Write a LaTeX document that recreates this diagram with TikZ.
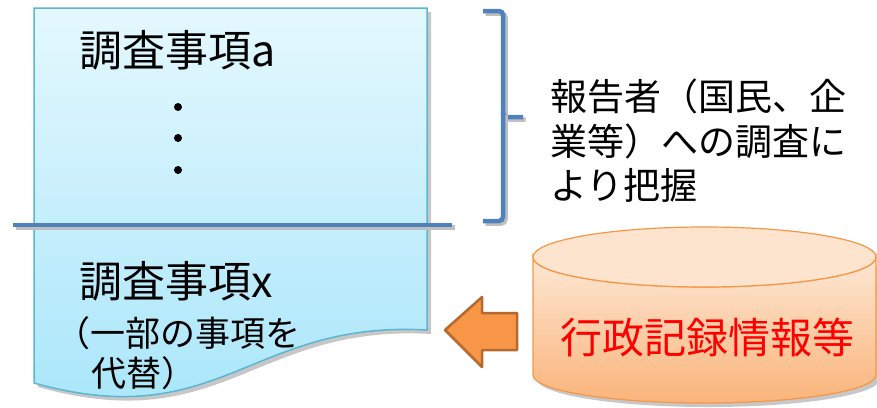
\documentclass[tikz,border=0pt]{standalone}
\usepackage{fontspec}
\setmainfont{Noto Sans CJK JP}
\definecolor{docT}{HTML}{E4F8FE}
\definecolor{docB}{HTML}{A6E5FA}
\definecolor{docLine}{HTML}{5BB6D2}
\definecolor{steel}{HTML}{4F81BD}
\definecolor{cylT}{HTML}{FDE7D4}
\definecolor{cylB}{HTML}{FAB47A}
\definecolor{cylTop}{HTML}{FDE4CF}
\definecolor{cylLine}{HTML}{F79646}
\definecolor{arrFill}{HTML}{F79646}
\definecolor{arrLine}{HTML}{B5692F}
\tikzset{
  shapeshadow/.style={fill=black!22, transform canvas={shift={(4pt,-4pt)}}},
  lineshadow/.style={preaction={draw=black!25, line width=4.5pt, transform canvas={shift={(2.5pt,-2.5pt)}}}},
  bigtxt/.style={font=\fontsize{43}{50}\selectfont, inner sep=0pt, anchor=base west},
  midtxt/.style={font=\fontsize{35}{42}\selectfont, inner sep=0pt, anchor=base west},
  sidetxt/.style={font=\fontsize{37}{45}\selectfont, inner sep=0pt, anchor=base west},
  redtxt/.style={font=\fontsize{42}{50}\selectfont, inner sep=0pt, text=red},
  dotmark/.style={circle, fill=black, inner sep=0pt, minimum size=8pt},
  bluerule/.style={draw=steel, line width=4.5pt},
}
\begin{document}
\begin{tikzpicture}[x=1pt,y=-1pt]
\useasboundingbox (0,0) rectangle (877,407);
% document shape
\fill[shapeshadow]
  (34,8) -- (427,8) -- (427,330) .. controls (250,320) and (220,435) .. (34,383) -- cycle;
\path[draw=docLine, line width=1.5pt, top color=docT, bottom color=docB]
  (34,8) -- (427,8) -- (427,330) .. controls (250,320) and (220,435) .. (34,383) -- cycle;
% divider line
\draw[bluerule, lineshadow] (13,225) -- (452,225);
% texts in document
\node[bigtxt] (ta) at (79,66) {調査事項a};
\node[dotmark] (d1) at (178,107) {};
\node[dotmark] (d2) at (178,138) {};
\node[dotmark] (d3) at (178,170) {};
\node[bigtxt] (tx) at (79,297) {調査事項x};
\node[midtxt] (tp1) at (55,346) {（一部の事項を};
\node[midtxt] (tp2) at (91,386) {代替）};
% bracket
\draw[bluerule, rounded corners=4pt, lineshadow] (483,11) -- (503,11) -- (503,117) -- (523,117);
\draw[bluerule, rounded corners=4pt, lineshadow] (503,112) -- (503,221) -- (483,221);
% side text
\node[sidetxt] (s1) at (550,110) {報告者（国民、企};
\node[sidetxt] (s2) at (550,155) {業等）への調査に};
\node[sidetxt] (s3) at (550,199) {より把握};
% cylinder
\fill[shapeshadow]
  (533,257) -- (533,375) arc[start angle=180, end angle=0, x radius=171.5, y radius=28]
  -- (876,257) arc[start angle=0, end angle=180, x radius=171.5, y radius=30] -- cycle;
\path[draw=cylLine, line width=1.2pt, top color=cylT, bottom color=cylB]
  (533,257) -- (533,375) arc[start angle=180, end angle=0, x radius=171.5, y radius=28]
  -- (876,257) arc[start angle=0, end angle=180, x radius=171.5, y radius=30] -- cycle;
\draw[cylLine, line width=1.2pt, fill=cylTop] (704.5,257) ellipse[x radius=171.5, y radius=30];
\node[redtxt] (rec) at (707,337) {行政記録情報等};
% arrow
\draw[arrLine, line width=2.5pt, fill=arrFill, line join=round]
  (445,330) -- (482,297) -- (482,313) -- (517,313) -- (517,350) -- (482,350) -- (482,367) -- cycle;
\end{tikzpicture}
\end{document}
